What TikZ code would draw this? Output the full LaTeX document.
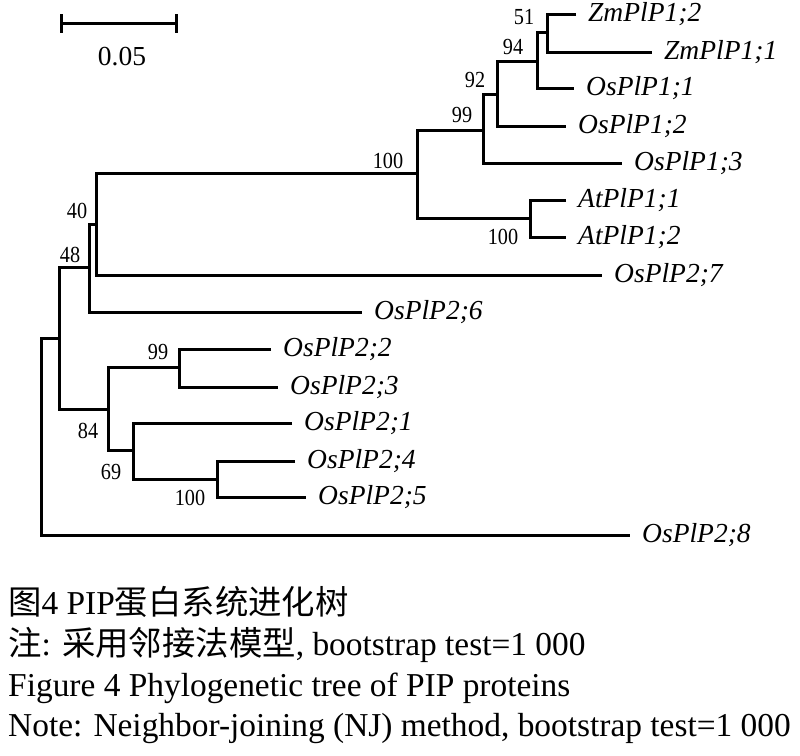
\documentclass[tikz,border=0pt]{standalone}
\usepackage{fontspec}
\setmainfont{Liberation Serif}
\newfontfamily\cjk{Noto Sans CJK SC}
\newfontfamily\numfont[FakeStretch=0.88]{Liberation Serif}
\begin{document}
\begin{tikzpicture}[
            x=1pt, y=-1pt,
            ramo/.style={line width=3pt},
            folha/.style={anchor=west, inner xsep=12pt, inner ysep=0pt, font=\fontsize{27.5}{30}\selectfont\itshape},
            suporte/.style={inner sep=0pt, font=\numfont\fontsize{23}{25}\selectfont},
            escala/.style={inner sep=0pt, font=\fontsize{27.5}{30}\selectfont},
            legenda/.style={anchor=base west, inner sep=0pt, font=\fontsize{33.4}{40}\selectfont},
        ]
        \useasboundingbox (0,0) rectangle (800,755);

        \coordinate (raiz) at (41, 436);
        \coordinate (a) at (59, 338);
        \coordinate (b) at (89, 267);
        \coordinate (c) at (96, 224);
        \coordinate (d) at (417, 173);
        \coordinate (e) at (483, 130);
        \coordinate (f) at (497, 94);
        \coordinate (g) at (537, 61);
        \coordinate (h) at (547, 32);
        \coordinate (at) at (530, 218);
        \coordinate (i) at (108, 409);
        \coordinate (j) at (179, 367);
        \coordinate (k) at (133, 450);
        \coordinate (l) at (217, 479);

        \node[folha] (zm2) at (576, 14) {ZmPlP1;2};
        \node[folha] (zm1) at (652, 52) {ZmPlP1;1};
        \node[folha] (os11) at (574, 88) {OsPlP1;1};
        \node[folha] (os12) at (566, 126) {OsPlP1;2};
        \node[folha] (os13) at (622, 163) {OsPlP1;3};
        \node[folha] (at1) at (566, 200) {AtPlP1;1};
        \node[folha] (at2) at (566, 237) {AtPlP1;2};
        \node[folha] (os27) at (602, 275) {OsPlP2;7};
        \node[folha] (os26) at (362, 312) {OsPlP2;6};
        \node[folha] (os22) at (271, 349) {OsPlP2;2};
        \node[folha] (os23) at (278, 387) {OsPlP2;3};
        \node[folha] (os21) at (292, 423) {OsPlP2;1};
        \node[folha] (os24) at (295, 461) {OsPlP2;4};
        \node[folha] (os25) at (306, 497) {OsPlP2;5};
        \node[folha] (os28) at (630, 535) {OsPlP2;8};

        \draw[ramo] (zm2) -| (h) |- (zm1);
        \draw[ramo] (h) -| (g) |- (os11);
        \draw[ramo] (g) -| (f) |- (os12);
        \draw[ramo] (f) -| (e) |- (os13);
        \draw[ramo] (at1) -| (at) |- (at2);
        \draw[ramo] (e) -| (d) |- (at);
        \draw[ramo] (d) -| (c) |- (os27);
        \draw[ramo] (c) -| (b) |- (os26);
        \draw[ramo] (os22) -| (j) |- (os23);
        \draw[ramo] (os24) -| (l) |- (os25);
        \draw[ramo] (os21) -| (k) |- (l);
        \draw[ramo] (j) -| (i) |- (k);
        \draw[ramo] (b) -| (a) |- (i);
        \draw[ramo] (a) -| (raiz) |- (os28);

        \node[suporte] (b51) at (524, 17) {51};
        \node[suporte] (b94) at (513, 47) {94};
        \node[suporte] (b92) at (475, 80) {92};
        \node[suporte] (b99a) at (462, 115) {99};
        \node[suporte] (b100a) at (388, 161) {100};
        \node[suporte] (b100b) at (503, 237) {100};
        \node[suporte] (b40) at (77, 211) {40};
        \node[suporte] (b48) at (70, 255) {48};
        \node[suporte] (b99b) at (158, 352) {99};
        \node[suporte] (b84) at (88, 431) {84};
        \node[suporte] (b69) at (111, 472) {69};
        \node[suporte] (b100c) at (190, 498) {100};

        \coordinate (s0) at (61, 23);
        \coordinate (s1) at (176, 23);
        \draw[ramo] (s0) -- (s1);
        \draw[ramo] ([yshift=9pt]s0) -- ([yshift=-10pt]s0);
        \draw[ramo] ([yshift=9pt]s1) -- ([yshift=-10pt]s1);
        \node[escala] (valor) at (122, 57) {0.05};

        \node[legenda] (leg1) at (8, 614) {{\cjk 图}4 PIP{\cjk 蛋白系统进化树}};
        \node[legenda] (leg2) at (8, 655) {{\cjk 注}: {\cjk 采用邻接法模型}, bootstrap test=1 000};
        \node[legenda] (leg3) at (8, 696) {Figure 4 Phylogenetic tree of PIP proteins};
        \node[legenda] (leg4) at (8, 736) {Note: Neighbor-joining (NJ) method, bootstrap test=1 000};

    \end{tikzpicture}
\end{document}
